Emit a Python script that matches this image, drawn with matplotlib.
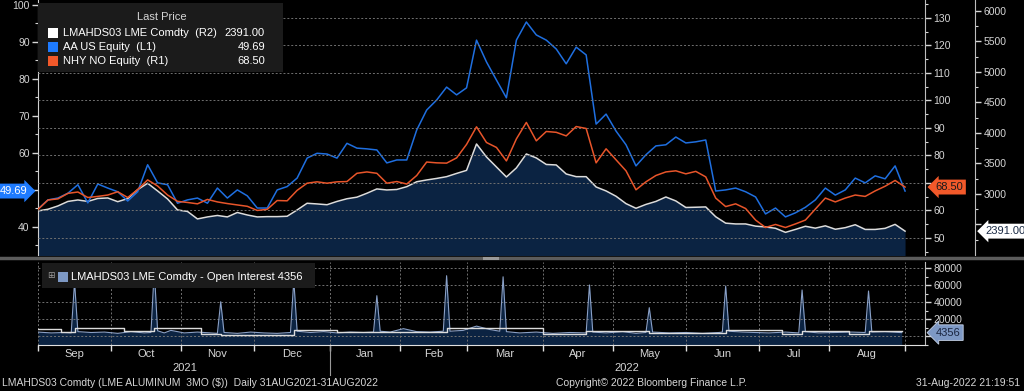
import numpy as np
import pandas as pd
import matplotlib
matplotlib.use('Agg')
import matplotlib.pyplot as plt
import matplotlib.transforms as mtransforms
from matplotlib.patches import Rectangle
from matplotlib.lines import Line2D

plt.rcParams['font.family'] = ['Liberation Sans', 'DejaVu Sans']

W, H = 1024, 391

# weekday calendar, day 0 = 1 Sep 2021
cal = pd.bdate_range('2021-09-01', '2022-09-01')
days = np.arange(0, 262, 3)   # one reading every 3 weekdays

# AA US Equity (L1)
aa = [44.8, 47.3, 47.8, 49.1, 51.4, 46.5, 51.6, 50.5, 49.5, 47.0,
      49.5, 56.8, 51.9, 51.4, 46.4, 47.3, 47.8, 46.4, 50.5, 47.8,
      50.0, 48.4, 45.1, 45.1, 50.0, 50.9, 53.2, 58.6, 59.9, 59.7,
      58.6, 62.6, 61.3, 61.1, 60.8, 57.3, 58.1, 58.1, 66.2, 71.6,
      74.3, 77.8, 75.7, 77.6, 90.5, 84.6, 79.7, 74.9, 90.5, 95.4,
      91.9, 90.5, 88.1, 84.1, 88.6, 86.5, 67.8, 70.5, 65.9, 62.2,
      56.5, 59.5, 61.9, 62.2, 64.3, 62.7, 63.0, 63.5, 49.7, 50.0,
      50.5, 49.5, 48.1, 43.5, 45.1, 42.7, 43.8, 45.3, 47.3, 50.5,
      48.6, 50.0, 53.2, 51.9, 53.8, 53.0, 56.5, 49.69]

# NHY NO Equity (R1)
nhy = [60.4, 63.8, 64.2, 66.2, 66.7, 64.7, 65.1, 65.6, 66.8, 64.7,
       67.6, 71.1, 68.9, 65.6, 63.3, 62.9, 62.4, 64.0, 63.1, 62.5,
       62.0, 61.5, 60.0, 60.4, 63.6, 63.5, 67.3, 69.9, 70.4, 69.9,
       70.4, 70.5, 73.5, 74.0, 73.5, 69.9, 70.5, 69.6, 72.7, 77.6,
       77.3, 77.2, 79.1, 84.0, 90.4, 84.7, 82.9, 78.0, 86.0, 92.0,
       85.3, 88.7, 88.4, 87.1, 90.5, 89.8, 77.3, 82.4, 78.4, 74.4,
       67.5, 70.4, 72.7, 74.0, 74.4, 73.3, 74.2, 72.2, 64.5, 61.4,
       62.4, 60.7, 56.5, 53.8, 54.9, 53.8, 55.1, 56.5, 60.5, 64.5,
       63.1, 64.5, 65.6, 65.1, 67.1, 68.8, 70.9, 68.50]

# LMAHDS03 LME Comdty (R2)
lme = [2722, 2750, 2804, 2878, 2902, 2878, 2927, 2935, 2874, 2924,
       3071, 3176, 3050, 2919, 2738, 2714, 2591, 2624, 2648, 2624,
       2697, 2656, 2624, 2629, 2629, 2635, 2738, 2848, 2837, 2824,
       2878, 2922, 2948, 3012, 3083, 3066, 3074, 3120, 3201, 3230,
       3255, 3284, 3337, 3387, 3820, 3607, 3443, 3279, 3427, 3656,
       3591, 3484, 3476, 3328, 3284, 3284, 3115, 3050, 2963, 2842,
       2766, 2829, 2878, 2951, 2886, 2779, 2783, 2788, 2627, 2522,
       2509, 2509, 2473, 2460, 2438, 2371, 2419, 2471, 2440, 2478,
       2422, 2448, 2496, 2419, 2419, 2437, 2502, 2391]

# open interest (lower panel)
oi_day = [0, 4, 8, 10, 11, 12, 16, 20, 24, 28, 32, 34, 35, 36, 38, 40, 44, 48,
          52, 54, 55, 56, 60, 64, 68, 72, 76, 77, 78, 82, 86, 90, 94, 98, 101,
          102, 103, 106, 110, 114, 118, 122, 123, 124, 128, 132, 136, 139, 140,
          141, 145, 150, 155, 160, 165, 166, 167, 171, 176, 180, 183, 184, 185,
          190, 195, 200, 205, 206, 207, 208, 212, 216, 220, 225, 229, 230, 231,
          235, 240, 245, 249, 250, 251, 255, 260]
oi_val = [5000, 4000, 4500, 4000, 64000, 5500, 4500, 5000, 3500, 5500, 4000,
          4500, 78000, 6500, 4000, 7000, 4000, 5000, 4000, 3500, 40700, 4500,
          3500, 5000, 4000, 3500, 4500, 66000, 6000, 4500, 5500, 4000, 5000,
          4500, 5000, 47800, 6000, 5000, 9000, 5500, 5000, 6000, 71300, 6000,
          7000, 12000, 8000, 6000, 70000, 5500, 4000, 5000, 3500, 4500, 4000,
          60400, 5000, 4000, 5500, 3500, 4500, 33700, 5000, 4000, 4500, 3500,
          4500, 5000, 59200, 6000, 5000, 4500, 4000, 5000, 4000, 54500, 5500,
          4000, 4500, 5000, 4500, 53300, 5000, 5500, 4356]
oi_ref_day = [0, 7, 11, 26, 35, 49, 55, 77, 90, 102, 123, 140, 152, 165, 184,
              207, 224, 230, 244, 250, 260]
oi_ref_val = [8600, 4700, 10100, 6200, 10100, 2700, 1000, 7000, 4700, 4700,
              10100, 9400, 2300, 6200, 4300, 7000, 2300, 6200, 2300, 6200, 6200]

# month boundaries / labels from the calendar
month_idx = [i for i in range(len(cal)) if i == 0 or cal[i].month != cal[i - 1].month]
month_mid = [(a + b) / 2 for a, b in zip(month_idx[:-1], month_idx[1:])]
month_lab = [cal[i].strftime('%b') for i in month_idx[:-1]]

BLUE = '#1f6fe0'
ORANGE = '#e8552a'
WHITE_LN = '#dcdcdc'
NAVY = '#0b2342'
TXT = '#d6d6d6'
GRID = '#707070'
FS = 7.5


def px_rect(x0, y0, x1, y1):
    return [x0 / W, 1 - y1 / H, (x1 - x0) / W, (y1 - y0) / H]


def labels_hiding(ticks, hidden):
    # tick labels that sit under a last-value tag are covered in the original
    return ['' if t in hidden else f'{t:g}' for t in ticks]


fig = plt.figure(figsize=(W / 100, H / 100), dpi=100, facecolor='black')

# ---------------- main panel ----------------
ax_lme = fig.add_axes(px_rect(38, 0, 925, 255), facecolor='black')
ax_aa = ax_lme.twinx()
ax_nhy = ax_lme.twinx()
XMAX = 267

for a in (ax_lme, ax_aa, ax_nhy):
    a.set_xlim(0, XMAX)
    for s in a.spines.values():
        s.set_visible(False)
    a.tick_params(colors=TXT, labelsize=FS)

ax_lme.fill_between(days, lme, 0, color=NAVY, lw=0)
ax_lme.plot(days, lme, color=WHITE_LN, lw=1.1)
ax_lme.set_ylim(2000, 6180)
ax_lme.yaxis.tick_right()
ax_lme.spines['right'].set_visible(True)
ax_lme.spines['right'].set_position(('outward', 36))
ax_lme.spines['right'].set_color('#bdbdbd')
t = list(range(2500, 6001, 500))
ax_lme.set_yticks(t)
ax_lme.set_yticklabels(labels_hiding(t, [2500]))
ax_lme.set_yticks(np.arange(2250, 6100, 250), minor=True)
ax_lme.set_xticks(month_idx)
ax_lme.tick_params(axis='x', length=0, labelbottom=False)
ax_lme.grid(axis='x', color=GRID, ls=(0, (2, 2)), lw=0.7)
ax_lme.tick_params(axis='y', which='major', length=4, width=1, pad=2)
ax_lme.tick_params(axis='y', which='minor', length=2, width=0.8, colors=TXT)

ax_aa.plot(days, aa, color=BLUE, lw=1.1)
ax_aa.set_ylim(32.4, 101.35)
ax_aa.yaxis.tick_left()
ax_aa.spines['left'].set_visible(True)
ax_aa.spines['left'].set_color('#d0d0d0')
t = list(range(40, 101, 10))
ax_aa.set_yticks(t)
ax_aa.set_yticklabels(labels_hiding(t, [50]))
ax_aa.set_yticks(np.arange(35, 101, 5), minor=True)
ax_aa.tick_params(axis='y', which='major', length=4, width=1, pad=2)
ax_aa.tick_params(axis='y', which='minor', length=2, width=0.8, colors=TXT)

ax_nhy.plot(days, nhy, color=ORANGE, lw=1.1)
ax_nhy.set_ylim(43.8, 136.5)
ax_nhy.spines['right'].set_visible(True)
ax_nhy.spines['right'].set_color('#bdbdbd')
t = list(range(50, 131, 10))
ax_nhy.set_yticks(t)
ax_nhy.set_yticklabels(labels_hiding(t, [70]))
ax_nhy.set_yticks(np.arange(45, 136, 5), minor=True)
ax_nhy.tick_params(axis='y', which='major', length=4, width=1, pad=2)
ax_nhy.tick_params(axis='y', which='minor', length=2, width=0.8, colors=TXT)
ax_nhy.grid(axis='y', color=GRID, ls=(0, (2, 2)), lw=0.7)
for a in (ax_aa, ax_nhy):
    a.set_xticks([])

# last value tags
tr = mtransforms.blended_transform_factory(ax_aa.transAxes, ax_aa.transData)
ax_aa.text(-0.012, aa[-1], f'{aa[-1]:.2f}', transform=tr, ha='right', va='center',
           color='white', fontsize=FS + 0.5,
           bbox=dict(boxstyle='rarrow,pad=0.22', fc='#1e7bff', ec='none'))
tr = mtransforms.blended_transform_factory(ax_nhy.transAxes, ax_nhy.transData)
ax_nhy.text(1.012, nhy[-1], f'{nhy[-1]:.2f}', transform=tr, ha='left', va='center',
            color='#1a1a1a', fontsize=FS + 0.5, zorder=10,
            bbox=dict(boxstyle='larrow,pad=0.22', fc='#f2592a', ec='none'))
tr = mtransforms.blended_transform_factory(ax_lme.transAxes, ax_lme.transData)
ax_lme.text(1.068, lme[-1], f'{lme[-1]:.2f}', transform=tr, ha='left', va='center',
            color='#1a2a44', fontsize=FS + 0.5, zorder=10,
            bbox=dict(boxstyle='larrow,pad=0.22', fc='white', ec='none'))

# main legend
fig.add_artist(Rectangle((38 / W, 1 - 72 / H), 245 / W, 69 / H,
                         transform=fig.transFigure, fc='#1b1b1b', ec='none', zorder=5))
fig.text(162 / W, 1 - 17 / H, 'Last Price', color=TXT, fontsize=FS + 0.5,
         ha='center', va='center', zorder=6)
rows = [('white', 'LMAHDS03 LME Comdty  (R2)', f'{lme[-1]:.2f}'),
        ('#1e7bff', 'AA US Equity  (L1)', f'{aa[-1]:.2f}'),
        ('#f2592a', 'NHY NO Equity  (R1)', f'{nhy[-1]:.2f}')]
for i, (c, name, val) in enumerate(rows):
    yc = 32.5 + i * 14.2
    fig.add_artist(Rectangle((48 / W, 1 - (yc + 5) / H), 10 / W, 10 / H,
                             transform=fig.transFigure, fc=c, ec='none', zorder=6))
    fig.text(63 / W, 1 - yc / H, name, color='white', fontsize=FS + 0.5,
             ha='left', va='center', zorder=6)
    fig.text(265 / W, 1 - yc / H, val, color='white', fontsize=FS + 0.5,
             ha='right', va='center', zorder=6)

# ---------------- lower panel ----------------
ax_oi = fig.add_axes(px_rect(38, 262, 925, 345), facecolor='black')
ax_oi.fill_between(oi_day, oi_val, -10200, color=NAVY, lw=0)
ax_oi.plot(oi_day, oi_val, color='#8aa0c6', lw=0.8)
ax_oi.plot(oi_ref_day, oi_ref_val, color=WHITE_LN, lw=1.0, drawstyle='steps-post')
ax_oi.set_xlim(0, XMAX)
ax_oi.set_ylim(-10200, 87400)
for s in ax_oi.spines.values():
    s.set_visible(False)
ax_oi.spines['bottom'].set_visible(True)
ax_oi.spines['bottom'].set_color('#e0e0e0')
ax_oi.spines['right'].set_visible(True)
ax_oi.spines['right'].set_color('#bdbdbd')
ax_oi.yaxis.tick_right()
t = [0, 20000, 40000, 60000, 80000]
ax_oi.set_yticks(t)
ax_oi.set_yticklabels(labels_hiding(t, [0]))
ax_oi.set_yticks(np.arange(-10000, 87000, 10000), minor=True)
ax_oi.tick_params(axis='y', which='major', colors=TXT, labelsize=FS, length=4, width=1, pad=2)
ax_oi.tick_params(axis='y', which='minor', colors=TXT, length=2, width=0.8)
ax_oi.set_xticks(month_idx)
ax_oi.set_xticklabels([])
ax_oi.set_xticks(month_mid, minor=True)
ax_oi.set_xticklabels(month_lab, minor=True)
ax_oi.tick_params(axis='x', which='major', colors='#e0e0e0', length=4, width=1)
ax_oi.tick_params(axis='x', which='minor', colors=TXT, labelsize=FS + 0.5, length=0, pad=3)
ax_oi.grid(axis='both', which='major', color=GRID, ls=(0, (2, 2)), lw=0.7)

tr = mtransforms.blended_transform_factory(ax_oi.transAxes, ax_oi.transData)
ax_oi.text(1.012, oi_val[-1], f'{oi_val[-1]}', transform=tr, ha='left', va='center',
           color='#1a2540', fontsize=FS + 0.5, zorder=10,
           bbox=dict(boxstyle='larrow,pad=0.25', fc='#7d98c4', ec='#c8d4e8', lw=0.6))

# lower legend
fig.add_artist(Rectangle((42 / W, 1 - 288 / H), 273 / W, 25 / H,
                         transform=fig.transFigure, fc='#1b1b1b', ec='none', zorder=5))
fig.text(51 / W, 1 - 276 / H, '\u229e', color='#9a9a9a', fontsize=FS - 1,
         ha='center', va='center', family='DejaVu Sans', zorder=6)
fig.add_artist(Rectangle((58 / W, 1 - 282 / H), 10 / W, 10 / H,
                         transform=fig.transFigure, fc='#7d98c4', ec='none', zorder=6))
fig.text(71 / W, 1 - 277 / H, f'LMAHDS03 LME Comdty - Open Interest {oi_val[-1]}',
         color='white', fontsize=FS + 0.5, ha='left', va='center', zorder=6)

# year labels and separator
tr = mtransforms.blended_transform_factory(ax_oi.transData, ax_oi.transAxes)
ax_oi.plot([month_idx[4], month_idx[4]], [0, -0.36], transform=tr, color='#9a9a9a',
           lw=0.8, clip_on=False)
fig.text(185 / W, 1 - 368 / H, '2021', color=TXT, fontsize=FS + 0.5, ha='center', va='center')
fig.text(627 / W, 1 - 368 / H, '2022', color=TXT, fontsize=FS + 0.5, ha='center', va='center')

# panel separator bar
fig.add_artist(Line2D([0, 1], [1 - 258 / H, 1 - 258 / H], transform=fig.transFigure,
                      color='#5c5c5c', lw=2.5, zorder=4))
fig.add_artist(Rectangle((483 / W, 1 - 259.5 / H), 16 / W, 3 / H,
                         transform=fig.transFigure, fc='#9a9a9a', ec='none', zorder=5))

# footer
fig.text(2 / W, 1 - 383 / H, 'LMAHDS03 Comdty (LME ALUMINUM  3MO ($))  Daily 31AUG2021-31AUG2022',
         color=TXT, fontsize=FS, ha='left', va='center')
fig.text(652 / W, 1 - 383 / H, 'Copyright\u00a9 2022 Bloomberg Finance L.P.',
         color=TXT, fontsize=FS, ha='center', va='center')
fig.text(1020 / W, 1 - 383 / H, '31-Aug-2022 21:19:51',
         color=TXT, fontsize=FS, ha='right', va='center')

fig.savefig('out.png', dpi=100, facecolor='black')
